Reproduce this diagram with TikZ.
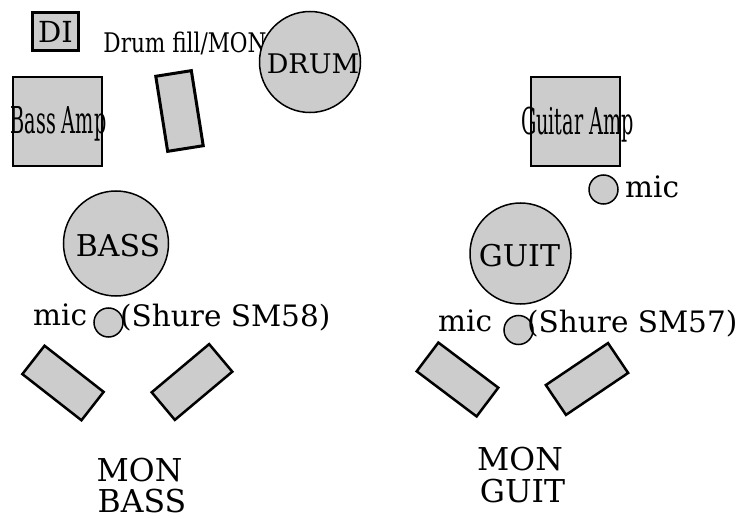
\documentclass[tikz,border=0pt]{standalone}
\usepackage{fontspec}
\setmainfont{DejaVu Serif}
\newfontfamily\narrowfont[FakeStretch=0.52]{DejaVu Serif}
\newfontfamily\fillfont[FakeStretch=0.8]{DejaVu Serif}
\definecolor{stagegray}{RGB}{204,204,204}
\tikzset{
  amp/.style={draw, fill=stagegray, line width=2pt, inner sep=0pt,
    minimum width=89pt, minimum height=89pt},
  player/.style={circle, draw, fill=stagegray, line width=1.5pt, inner sep=0pt},
  mic/.style={circle, draw, fill=stagegray, line width=1.5pt, inner sep=0pt,
    minimum size=29pt},
  wedge/.style={draw, fill=stagegray, line width=2.5pt, inner sep=0pt,
    minimum width=75pt, minimum height=36pt},
  tag/.style={inner sep=0pt, anchor=base},
}
\begin{document}
\begin{tikzpicture}[x=1pt, y=-1pt]
    % variables
    \def\micFont{\fontsize{29.5}{34}\selectfont}
    \def\playerFont{\fontsize{30}{36}\selectfont}
    \def\monFont{\fontsize{31.5}{38}\selectfont}

    \useasboundingbox (0, 0) rectangle (740, 519);

    % Drum riser corner
    \node[draw, fill=stagegray, line width=3pt, inner sep=0pt,
      minimum width=46pt, minimum height=38pt] (di) at (55.5, 31.5) {};
    \node[tag, font=\fontsize{29}{34}\selectfont] (diText) at (55.5, 43) {DI};
    \node[draw, fill=stagegray, line width=3pt, inner sep=0pt,
      minimum width=36pt, minimum height=76pt, rotate=9] (drumFill) at (179.5, 111) {};
    \node[tag, font=\fillfont\fontsize{27}{32}\selectfont] (drumFillText) at (185, 53) {Drum fill/MON};
    \node[player, minimum size=101pt] (drum) at (310, 62) {};
    \node[tag, font=\fontsize{27}{32}\selectfont] (drumText) at (313, 74) {DRUM};

    % Bass side
    \node[amp] (bassAmp) at (57.5, 121.5) {};
    \node[tag, font=\narrowfont\fontsize{37}{42}\selectfont] (bassAmpText) at (58.5, 133) {Bass Amp};
    \node[player, minimum size=105pt] (bass) at (116, 243.5) {};
    \node[tag, font=\playerFont] (bassText) at (118, 256) {BASS};
    \node[mic] (bassMic) at (108.5, 322.5) {};
    \node[tag, anchor=base west, font=\micFont] (bassMicText) at (33, 325) {mic};
    \node[tag, anchor=base west, font=\micFont] (bassMicModel) at (120, 326) {(Shure SM58)};
    \node[wedge, rotate=-38] (bassMonL) at (63, 383) {};
    \node[wedge, rotate=40] (bassMonR) at (192, 382) {};
    \node[tag, font=\monFont] (bassMon) at (139.5, 481) {MON};
    \node[tag, font=\monFont] (bassMonText) at (142, 512) {BASS};

    % Guitar side
    \node[amp] (guitAmp) at (575, 121.5) {};
    \node[tag, font=\narrowfont\fontsize{37}{42}\selectfont] (guitAmpText) at (577.5, 135) {Guitar Amp};
    \node[mic] (guitAmpMic) at (603.5, 189.5) {};
    \node[tag, anchor=base west, font=\micFont] (guitAmpMicText) at (625, 197) {mic};
    \node[player, minimum size=101pt] (guit) at (520.5, 253.5) {};
    \node[tag, font=\playerFont] (guitText) at (519.5, 266) {GUIT};
    \node[mic] (guitMic) at (518.5, 330) {};
    \node[tag, anchor=base west, font=\micFont] (guitMicText) at (438, 331) {mic};
    \node[tag, anchor=base west, font=\micFont] (guitMicModel) at (527, 332) {(Shure SM57)};
    \node[wedge, rotate=-37] (guitMonL) at (457.5, 379.5) {};
    \node[wedge, rotate=34] (guitMonR) at (587, 379) {};
    \node[tag, font=\monFont] (guitMon) at (520, 470) {MON};
    \node[tag, font=\monFont] (guitMonText) at (522.5, 502) {GUIT};
\end{tikzpicture}
\end{document}
